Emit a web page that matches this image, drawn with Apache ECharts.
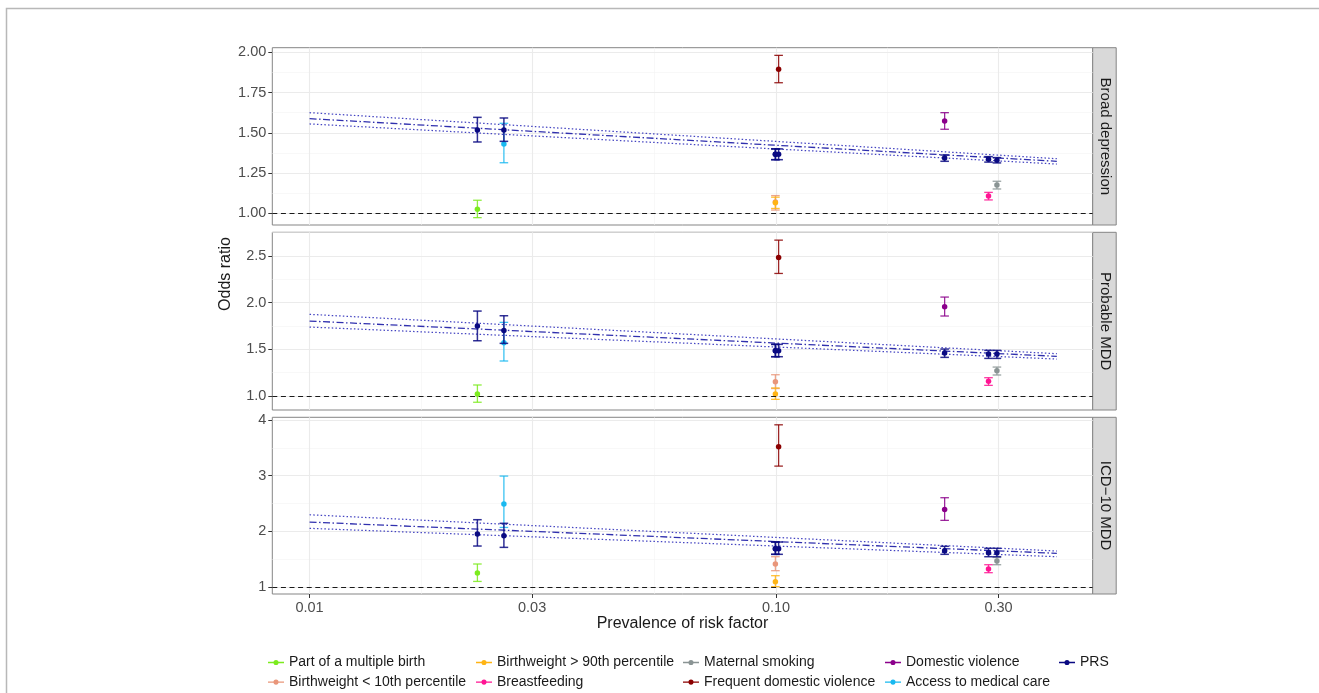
<!DOCTYPE html>
<html><head><meta charset="utf-8">
<script src="https://cdn.jsdelivr.net/npm/echarts@6/dist/echarts.min.js"></script>
<style>html,body{margin:0;padding:0;background:#fff}#c{width:1319px;height:693px}</style>
</head><body><div id="c"></div>
<script>
// ---------------- data ----------------
const factors = ['Part of a multiple birth','Birthweight < 10th percentile','Birthweight > 90th percentile','Breastfeeding','Maternal smoking','Frequent domestic violence','Domestic violence','Access to medical care'];
const prevalence = [0.0229, 0.0997, 0.0997, 0.2855, 0.2976, 0.1013, 0.2299, 0.0261];
const outcomes = ['Broad depression','Probable MDD','ICD\u221210 MDD'];

const orBroad  = [1.025, 1.070, 1.065, 1.107, 1.176, 1.894, 1.573, 1.430];
const loBroad  = [0.973, 1.020, 1.030, 1.083, 1.151, 1.811, 1.522, 1.314];
const hiBroad  = [1.081, 1.110, 1.100, 1.130, 1.199, 1.981, 1.625, 1.559];
const prsBroad   = [1.517, 1.366, 1.366, 1.335, 1.329, 1.366, 1.343, 1.517];
const prsLoBroad = [1.443, 1.333, 1.333, 1.318, 1.313, 1.333, 1.323, 1.447];
const prsHiBroad = [1.596, 1.400, 1.400, 1.352, 1.346, 1.400, 1.362, 1.592];

const orProb  = [1.021, 1.153, 1.021, 1.157, 1.271, 2.485, 1.956, 1.570];
const loProb  = [0.933, 1.080, 0.964, 1.114, 1.225, 2.313, 1.857, 1.375];
const hiProb  = [1.118, 1.228, 1.086, 1.196, 1.310, 2.670, 2.060, 1.789];
const prsProb   = [1.749, 1.485, 1.485, 1.450, 1.450, 1.485, 1.460, 1.703];
const prsLoProb = [1.592, 1.421, 1.421, 1.403, 1.403, 1.421, 1.414, 1.564];
const prsHiProb = [1.910, 1.553, 1.553, 1.489, 1.489, 1.553, 1.503, 1.860];

const orIcd  = [1.251, 1.413, 1.096, 1.323, 1.467, 3.519, 2.394, 2.490];
const loIcd  = [1.100, 1.293, 1.006, 1.257, 1.400, 3.172, 2.197, 2.070];
const hiIcd  = [1.413, 1.544, 1.203, 1.400, 1.530, 3.914, 2.604, 2.993];
const prsIcd   = [1.952, 1.689, 1.689, 1.616, 1.616, 1.689, 1.652, 1.922];
const prsLoIcd = [1.736, 1.587, 1.587, 1.544, 1.544, 1.587, 1.587, 1.712];
const prsHiIcd = [2.209, 1.808, 1.808, 1.695, 1.695, 1.808, 1.731, 2.144];

// fitted PRS curve (centre, lower, upper) at its two ends
const fitX = [0.01, 0.40];
const fitBroad = [1.588, 1.323], fitLoBroad = [1.555, 1.306], fitHiBroad = [1.625, 1.339];
const fitProb  = [1.803, 1.425], fitLoProb  = [1.739, 1.396], fitHiProb  = [1.875, 1.453];
const fitIcd   = [2.167, 1.605], fitLoIcd   = [2.054, 1.544], fitHiIcd   = [2.298, 1.646];

// tick labels
const xTicks = [0.01, 0.03, 0.10, 0.30];
const yTicksBroad = [1.00, 1.25, 1.50, 1.75, 2.00];
const yTicksProb  = [1.0, 1.5, 2.0, 2.5];
const yTicksIcd   = [1, 2, 3, 4];

// ---------------- styling / layout ----------------
const colors = ['#7CEB1E','#E9967A','#FFB414','#FF1493','#8A9494','#8B0000','#8B008B','#19B9F0'];
const prsColor = '#0A0A82';
const FONT = '"Liberation Sans", Arial, Helvetica, sans-serif';
const panels = [
  {top: 47.7, height: 177.3, ymin: 0.9273, ymax: 2.0286, dec: 2, ticks: yTicksBroad,
   or: orBroad, lo: loBroad, hi: hiBroad, prs: prsBroad, prsLo: prsLoBroad, prsHi: prsHiBroad,
   fit: fitBroad, fitLo: fitLoBroad, fitHi: fitHiBroad},
  {top: 232.3, height: 177.7, ymin: 0.85, ymax: 2.754, dec: 1, ticks: yTicksProb,
   or: orProb, lo: loProb, hi: hiProb, prs: prsProb, prsLo: prsLoProb, prsHi: prsHiProb,
   fit: fitProb, fitLo: fitLoProb, fitHi: fitHiProb},
  {top: 417.3, height: 176.7, ymin: 0.874, ymax: 4.049, dec: 0, ticks: yTicksIcd,
   or: orIcd, lo: loIcd, hi: hiIcd, prs: prsIcd, prsLo: prsLoIcd, prsHi: prsHiIcd,
   fit: fitIcd, fitLo: fitLoIcd, fitHi: fitHiIcd}
];
const GL = 272.3, GR = 1092.7;
const XMIN = 0.00832, XMAX = 0.4775;

// minor grid positions: midpoints between major ticks (in the transformed scale)
function minorLog(t) { const m = []; for (let i = 0; i < t.length - 1; i++) m.push(Math.sqrt(t[i] * t[i + 1])); return m; }
function minorLin(t, top) { const m = []; for (let i = 0; i < t.length - 1; i++) m.push((t[i] + t[i + 1]) / 2); const s = t[1] - t[0]; const e = t[t.length - 1] + s / 2; if (e <= top) m.push(e); return m; }

const grids = [], xAxes = [], yAxes = [], series = [];
const majorLine = {show: true, lineStyle: {color: '#EBEBEB', width: 1.1}};
const minorLine = {show: true, lineStyle: {color: '#F3F3F3', width: 0.6}};

panels.forEach((p, i) => {
  grids.push({left: GL, width: GR - GL, top: p.top, height: p.height, show: true,
    borderColor: '#858585', borderWidth: 1, backgroundColor: '#fff', z: 0});
  // minor axes (index 2i), major axes (index 2i+1)
  xAxes.push({type: 'log', gridIndex: i, position: 'bottom', min: XMIN, max: XMAX, z: 0,
    axisLine: {show: false, onZero: false}, axisLabel: {show: false, customValues: minorLog(xTicks)},
    axisTick: {show: false, customValues: minorLog(xTicks)}, splitLine: minorLine});
  xAxes.push({type: 'log', gridIndex: i, position: 'bottom', min: XMIN, max: XMAX, z: 1,
    axisLine: {show: false, onZero: false},
    axisTick: {show: i === 2, customValues: xTicks, length: 4, lineStyle: {color: '#333', width: 1}},
    axisLabel: {show: i === 2, customValues: xTicks, margin: 6, color: '#4D4D4D', fontSize: 14.5, fontFamily: FONT,
      formatter: v => v.toFixed(2)},
    splitLine: majorLine});
  yAxes.push({type: 'value', gridIndex: i, position: 'left', min: p.ymin, max: p.ymax, z: 0,
    axisLine: {show: false, onZero: false}, axisLabel: {show: false, customValues: minorLin(p.ticks, p.ymax)},
    axisTick: {show: false, customValues: minorLin(p.ticks, p.ymax)}, splitLine: minorLine});
  yAxes.push({type: 'value', gridIndex: i, position: 'left', min: p.ymin, max: p.ymax, z: 1,
    axisLine: {show: false, onZero: false},
    axisTick: {show: true, customValues: p.ticks, length: 4, lineStyle: {color: '#333', width: 1}},
    axisLabel: {customValues: p.ticks, margin: 6, color: '#4D4D4D', fontSize: 14.5, fontFamily: FONT,
      formatter: v => v.toFixed(p.dec)},
    splitLine: majorLine});

  const xi = 2 * i + 1, yi = 2 * i + 1;
  // fitted line with CI
  series.push({type: 'line', name: 'fitHi' + i, xAxisIndex: xi, yAxisIndex: yi, z: 2, silent: true,
    symbol: 'none', data: fitX.map((x, k) => [x, p.fitHi[k]]),
    lineStyle: {color: '#4545C2', width: 1.25, type: [1.5, 2.2]}});
  series.push({type: 'line', name: 'fitLo' + i, xAxisIndex: xi, yAxisIndex: yi, z: 2, silent: true,
    symbol: 'none', data: fitX.map((x, k) => [x, p.fitLo[k]]),
    lineStyle: {color: '#4545C2', width: 1.25, type: [1.5, 2.2]}});
  series.push({type: 'line', name: 'fit' + i, xAxisIndex: xi, yAxisIndex: yi, z: 2, silent: true,
    symbol: 'none', data: fitX.map((x, k) => [x, p.fit[k]]),
    lineStyle: {color: '#3030AE', width: 1.3, type: [7, 2.5, 1.5, 2.5]},
    markLine: {silent: true, symbol: 'none', label: {show: false},
      lineStyle: {color: '#1a1a1a', width: 1.1, type: [5, 3.6]}, data: [{yAxis: 1}]}});

  // risk factors
  factors.forEach((f, k) => {
    series.push(errSeries(f + ' CI ' + i, colors[k], [[prevalence[k], p.lo[k], p.hi[k]]], xi, yi, 3, 1.3));
    series.push({type: 'scatter', name: f, xAxisIndex: xi, yAxisIndex: yi, z: 3, symbol: 'circle', symbolSize: 5.5,
      itemStyle: {color: colors[k], opacity: 1}, data: [[prevalence[k], p.or[k]]]});
  });
  // PRS
  series.push(errSeries('PRS CI ' + i, prsColor, prevalence.map((x, k) => [x, p.prsLo[k], p.prsHi[k]]), xi, yi, 4, 1.5));
  series.push({type: 'scatter', name: 'PRS', xAxisIndex: xi, yAxisIndex: yi, z: 4, symbol: 'circle', symbolSize: 5.5,
    itemStyle: {color: prsColor, opacity: 1}, data: prevalence.map((x, k) => [x, p.prs[k]])});
});

function errSeries(name, color, data, xi, yi, z, lw) {
  return {type: 'custom', name, xAxisIndex: xi, yAxisIndex: yi, z, silent: true, data,
    encode: {x: 0, y: [1, 2]},
    renderItem: (params, api) => {
      const x = api.value(0), lo = api.value(1), hi = api.value(2);
      const a = api.coord([x, hi]), b = api.coord([x, lo]);
      const hw = 4.3;
      const style = {stroke: color, lineWidth: lw, opacity: 0.85};
      return {type: 'group', children: [
        {type: 'line', shape: {x1: a[0], y1: a[1], x2: b[0], y2: b[1]}, style},
        {type: 'line', shape: {x1: a[0] - hw, y1: a[1], x2: a[0] + hw, y2: a[1]}, style},
        {type: 'line', shape: {x1: b[0] - hw, y1: b[1], x2: b[0] + hw, y2: b[1]}, style}
      ]};
    }};
}

// legend (column-wise, two rows)
const legendNames = factors.concat(['PRS']);
const legendColors = colors.concat([prsColor]);
const ICON = 'path://M0,4.2L20,4.2L20,5.8L0,5.8Z M13.2,5A3.2,3.2,0,1,1,6.8,5A3.2,3.2,0,1,1,13.2,5Z';
const legendCols = [268, 476, 683, 885, 1059];
const legends = legendCols.map((left, c) => ({
  left: left, top: 655.5, orient: 'vertical', padding: 0, itemGap: 5.6, itemWidth: 16, itemHeight: 8,
  selectedMode: false,
  textStyle: {fontSize: 14, color: '#1A1A1A', fontFamily: FONT},
  data: legendNames.slice(c * 2, c * 2 + 2).map((n, j) => ({name: n, icon: ICON,
    itemStyle: {color: legendColors[c * 2 + j]}}))
}));

// strips, axis titles, frame
const graphics = [
  {type: 'rect', z: -10, silent: true, shape: {x: 6.5, y: 8.5, width: 1400, height: 800},
   style: {fill: 'transparent', stroke: '#b8b8b8', lineWidth: 1.5}},
  {type: 'text', x: 682.5, y: 624, silent: true,
   style: {text: 'Prevalence of risk factor', fontSize: 16, fontFamily: FONT, fill: '#1A1A1A', align: 'center', verticalAlign: 'middle'}},
  {type: 'text', x: 226, y: 274, rotation: Math.PI / 2, silent: true,
   style: {text: 'Odds ratio', fontSize: 16, fontFamily: FONT, fill: '#1A1A1A', align: 'center', verticalAlign: 'middle'}}
];
panels.forEach((p, i) => {
  graphics.push({type: 'rect', silent: true, shape: {x: GR, y: p.top, width: 23.5, height: p.height},
    style: {fill: '#D9D9D9', stroke: '#858585', lineWidth: 1}});
  graphics.push({type: 'text', x: GR + 12, y: p.top + p.height / 2, rotation: -Math.PI / 2, silent: true,
    style: {text: outcomes[i], fontSize: 15, fontFamily: FONT, fill: '#1A1A1A', align: 'center', verticalAlign: 'middle'}});
});

const chart = echarts.init(document.getElementById('c'), null, {renderer: 'canvas'});
chart.setOption({
  animation: false,
  backgroundColor: '#fff',
  grid: grids, xAxis: xAxes, yAxis: yAxes, series: series, legend: legends, graphic: graphics
});
</script>
</body></html>
